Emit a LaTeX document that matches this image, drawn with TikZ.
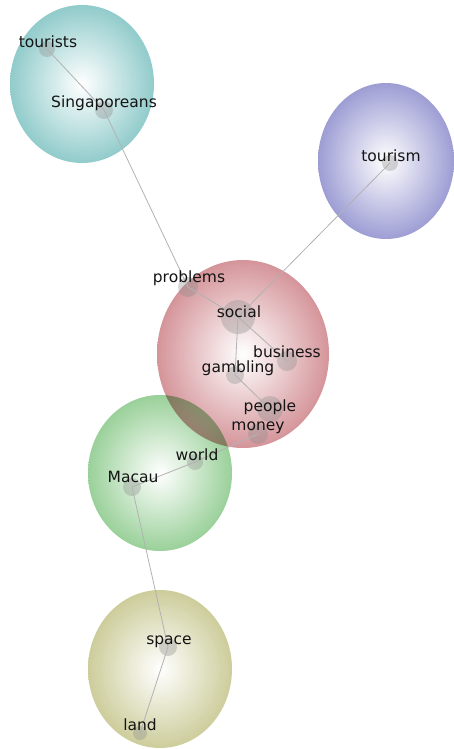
\documentclass[tikz,border=0pt]{standalone}
\usepackage{fontspec}
\setmainfont{DejaVu Sans}
\begin{document}
\begin{tikzpicture}[x=1pt,y=-1pt,
  cluster/.style={inner color=white, opacity=0.85},
  edge/.style={draw=black!30, line width=0.8pt},
  dot/.style={circle, fill=black!45, fill opacity=0.35, draw=none, inner sep=0pt, minimum size=#1},
  dot/.default=16pt,
  lbl/.style={anchor=base, inner sep=0pt, text=black!92, font=\fontsize{15.5}{15.5}\selectfont}]
\useasboundingbox (0,0) rectangle (453,749);

% topic clusters
\definecolor{cteal}{RGB}{126,194,194}
\definecolor{cviolet}{RGB}{140,140,205}
\definecolor{crose}{RGB}{205,130,136}
\definecolor{cgreen}{RGB}{136,200,136}
\definecolor{colive}{RGB}{196,196,138}
\shade[cluster, outer color=cteal] (82,84) ellipse [x radius=72pt, y radius=79pt];
\shade[cluster, outer color=cviolet] (386,161) ellipse [x radius=68pt, y radius=78pt];
\shade[cluster, outer color=cgreen] (160,473) ellipse [x radius=72pt, y radius=78pt];
\shade[cluster, outer color=crose, blend mode=multiply] (243,354) ellipse [x radius=86pt, y radius=94pt];
\shade[cluster, outer color=colive] (160,669) ellipse [x radius=72pt, y radius=79pt];

% term positions
\node[dot=16pt] (tourists) at (47,49) {};
\node[dot=18pt] (singaporeans) at (104,110) {};
\node[dot=16pt] (tourism) at (390,163) {};
\node[dot=20pt] (problems) at (188,287) {};
\node[dot=34pt] (social) at (238,317) {};
\node[dot=20pt] (business) at (287,361) {};
\node[dot=18pt] (gambling) at (235,375) {};
\node[dot=26pt] (people) at (270,409) {};
\node[dot=20pt] (money) at (258,434) {};
\node[dot=16pt] (world) at (195,462) {};
\node[dot=18pt] (macau) at (132,487) {};
\node[dot=18pt] (space) at (168,647) {};
\node[dot=14pt] (land) at (140,733) {};

% links
\draw[edge] (tourists.center) -- (singaporeans.center);
\draw[edge] (singaporeans.center) -- (problems.center);
\draw[edge] (problems.center) -- (social.center);
\draw[edge] (tourism.center) -- (social.center);
\draw[edge] (social.center) -- (business.center);
\draw[edge] (social.center) -- (gambling.center);
\draw[edge] (gambling.center) -- (people.center);
\draw[edge] (money.center) -- (world.center);
\draw[edge] (world.center) -- (macau.center);
\draw[edge] (macau.center) -- (space.center);
\draw[edge] (space.center) -- (land.center);

% labels
\node[lbl] (tourists-l) at (48,48) {tourists};
\node[lbl] (singaporeans-l) at (104,107) {Singaporeans};
\node[lbl] (tourism-l) at (391,161) {tourism};
\node[lbl] (problems-l) at (189,282) {problems};
\node[lbl] (social-l) at (239,317) {social};
\node[lbl] (business-l) at (287,357) {business};
\node[lbl] (gambling-l) at (238,372) {gambling};
\node[lbl] (people-l) at (270,411) {people};
\node[lbl] (money-l) at (258,430) {money};
\node[lbl] (world-l) at (197,460) {world};
\node[lbl] (macau-l) at (133,482) {Macau};
\node[lbl] (space-l) at (169,644) {space};
\node[lbl] (land-l) at (140,730) {land};
\end{tikzpicture}
\end{document}
